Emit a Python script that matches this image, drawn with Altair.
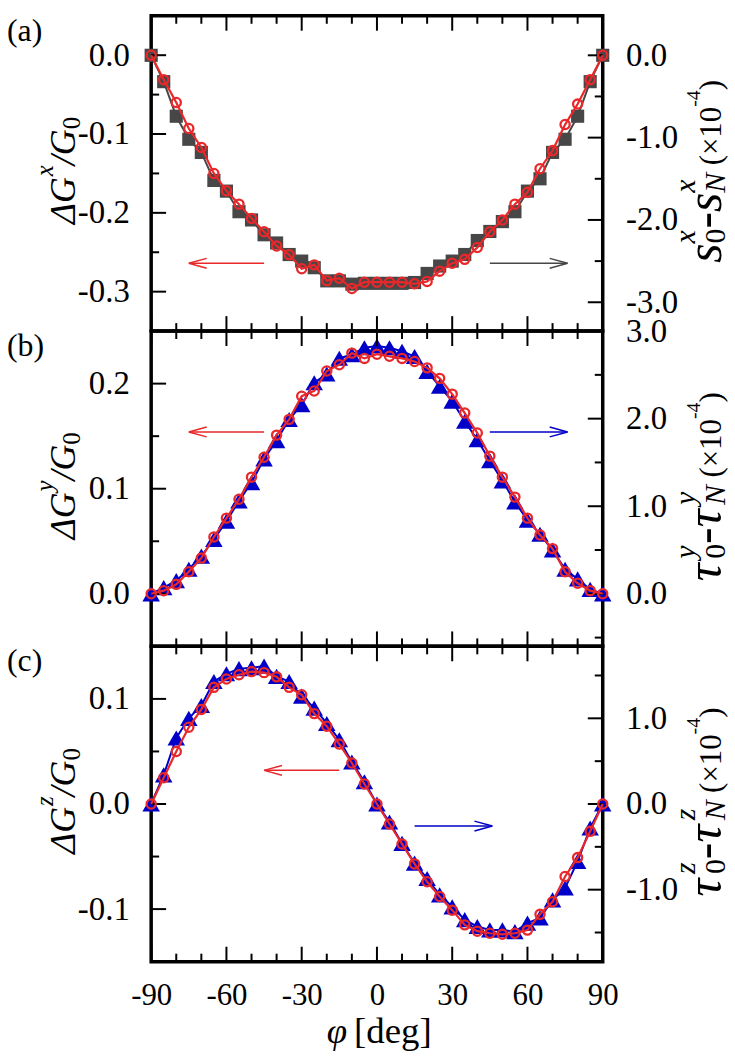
import altair as alt
import pandas as pd

SERIF = "Liberation Serif"
RED = "#e8282b"
GRAY = "#474747"
BLUE = "#0000c8"

PHI = [-90, -85, -80, -75, -70, -65, -60, -55, -50, -45, -40, -35, -30, -25, -20, -15, -10, -5, 0,
       5, 10, 15, 20, 25, 30, 35, 40, 45, 50, 55, 60, 65, 70, 75, 80, 85, 90]

# panel (a): conductance change (left) and spin accumulation difference (right, x1e-4)
DG_X = [0.000, -0.031, -0.060, -0.093, -0.117, -0.150, -0.172, -0.189, -0.207, -0.224, -0.242, -0.253,
        -0.271, -0.266, -0.286, -0.283, -0.296, -0.288, -0.288, -0.288, -0.288, -0.290, -0.287, -0.274,
        -0.264, -0.259, -0.244, -0.224, -0.209, -0.189, -0.174, -0.144, -0.121, -0.088, -0.062, -0.031, 0.000]
SPIN_X = [0.0, -0.32, -0.74, -1.02, -1.18, -1.52, -1.65, -1.90, -2.00, -2.18, -2.28, -2.42, -2.50, -2.58,
          -2.74, -2.74, -2.78, -2.77, -2.77, -2.77, -2.77, -2.76, -2.65, -2.56, -2.50, -2.42, -2.25, -2.14,
          -2.02, -1.90, -1.65, -1.50, -1.18, -1.02, -0.74, -0.32, 0.0]
# panel (b)
DG_Y = [0.000, 0.003, 0.009, 0.021, 0.034, 0.054, 0.072, 0.090, 0.111, 0.130, 0.151, 0.166, 0.188, 0.193,
        0.212, 0.218, 0.229, 0.224, 0.228, 0.226, 0.224, 0.221, 0.215, 0.205, 0.190, 0.172, 0.153, 0.131,
        0.111, 0.092, 0.072, 0.056, 0.043, 0.021, 0.010, 0.003, 0.000]
TAU_Y = [0.0, 0.07, 0.15, 0.28, 0.43, 0.62, 0.83, 1.06, 1.27, 1.54, 1.75, 1.99, 2.16, 2.41, 2.51, 2.69,
         2.73, 2.81, 2.83, 2.81, 2.77, 2.71, 2.54, 2.37, 2.20, 1.97, 1.76, 1.52, 1.29, 1.05, 0.84, 0.68,
         0.50, 0.28, 0.17, 0.05, 0.0]
# panel (c)
DG_Z = [0.000, 0.025, 0.050, 0.073, 0.090, 0.111, 0.119, 0.123, 0.126, 0.125, 0.121, 0.111, 0.104, 0.086,
        0.074, 0.057, 0.039, 0.019, 0.000, -0.019, -0.038, -0.057, -0.074, -0.088, -0.101, -0.115, -0.121,
        -0.123, -0.124, -0.123, -0.120, -0.105, -0.093, -0.069, -0.051, -0.026, 0.000]
TAU_Z = [0.0, 0.34, 0.77, 1.00, 1.15, 1.43, 1.52, 1.58, 1.59, 1.61, 1.49, 1.43, 1.26, 1.12, 0.94, 0.75,
         0.49, 0.26, 0.0, -0.21, -0.46, -0.69, -0.87, -1.06, -1.20, -1.35, -1.43, -1.47, -1.47, -1.49,
         -1.39, -1.33, -1.12, -0.98, -0.67, -0.28, 0.0]

X_MAJOR = [-90, -60, -30, 0, 30, 60, 90]
X_MINOR = [-80, -70, -50, -40, -20, -10, 10, 20, 40, 50, 70, 80]

A_LEFT_DOMAIN, A_LEFT_MAJOR, A_LEFT_MINOR = [-0.35, 0.05], [0.0, -0.1, -0.2, -0.3], [-0.05, -0.15, -0.25]
A_RIGHT_DOMAIN, A_RIGHT_MAJOR, A_RIGHT_MINOR = [-3.35, 0.48], [0.0, -1.0, -2.0, -3.0], [-0.5, -1.5, -2.5]
B_LEFT_DOMAIN, B_LEFT_MAJOR, B_LEFT_MINOR = [-0.05, 0.25], [0.0, 0.1, 0.2], [0.05, 0.15]
B_RIGHT_DOMAIN, B_RIGHT_MAJOR, B_RIGHT_MINOR = [-0.6, 3.0], [0.0, 1.0, 2.0, 3.0], [-0.5, 0.5, 1.5, 2.5]
C_LEFT_DOMAIN, C_LEFT_MAJOR, C_LEFT_MINOR = [-0.15, 0.15], [-0.1, 0.0, 0.1], [-0.05, 0.05]
C_RIGHT_DOMAIN, C_RIGHT_MAJOR, C_RIGHT_MINOR = [-1.84, 1.84], [-1.0, 0.0, 1.0], [-1.5, -0.5, 0.5, 1.5]

# arrows (data coordinates of the left axis)
ARROW_TAIL_A, ARROW_TIP_A, ARROW_LEVEL_A = [-45, 45], [-75, 76], [-0.264, -0.264]
ARROW_TAIL_B, ARROW_TIP_B, ARROW_LEVEL_B = [-45, 45], [-75, 76], [0.154, 0.154]
ARROW_TAIL_C, ARROW_TIP_C, ARROW_LEVEL_C = [-15, 15], [-45, 46], [0.032, -0.021]

W, H = 454, 317
MAJ_LEN, MIN_LEN = 15, 8
LEFT_HEAD = "M0,0L2,-0.55M0,0L2,0.55"
RIGHT_HEAD = "M0,0L-2,-0.55M0,0L-2,0.55"
YFMT = "datum.value < 0 ? '-' + format(-datum.value, '.1f') : format(datum.value, '.1f')"
XFMT = "datum.value < 0 ? '-' + format(-datum.value, 'd') : format(datum.value, 'd')"

W_NORMAL = {'(': .333, ')': .333, '×': .564, '-': .333, ' ': .25, '0': .5, '1': .5, '4': .5}
W_ITALIC = {'Δ': .612, 'G': .722, 'x': .444, 'y': .444, 'z': .389, '/': .278, 's': .389, 'N': .667,
            'τ': .45, 'φ': .5}

ONE = pd.DataFrame({'k': [0]})


def txt(s, x, y, size, style='normal', angle=0, align='left', baseline='alphabetic'):
    kw = dict(text=s, font=SERIF, fontSize=size, fontStyle=style, align=align,
              baseline=baseline, color='black')
    if angle:
        kw['angle'] = angle
    return alt.Chart(ONE).mark_text(**kw).encode(x=alt.value(x), y=alt.value(y))


def piece_width(t, size, style):
    table = W_ITALIC if style == 'italic' else W_NORMAL
    return sum(table.get(ch, 0.5) for ch in t) * size


def rotated_title(groups, base_x, center_y):
    advs = [max(piece_width(t, s, st) for t, s, st, sh in g) for g in groups]
    pos = center_y + sum(advs) / 2
    marks = []
    for g, adv in zip(groups, advs):
        for t, s, st, sh in g:
            if t.strip():
                marks.append(txt(t, base_x + sh, pos, s, st, angle=270))
        pos -= adv
    return marks


def left_title(sup):
    return [
        [("ΔG", 36, 'italic', 0)],
        [(sup, 25, 'italic', -22)],
        [("/G", 36, 'italic', 0)],
        [("0", 25, 'normal', 5)],
    ]


def right_title(sym, sup):
    return [
        [(sym, 50, 'italic', 0)],
        [("0", 30, 'normal', 4), (sup, 30, 'italic', -26)],
        [("-", 50, 'normal', 0)],
        [(sym, 50, 'italic', 0)],
        [("N", 30, 'italic', 4), (sup, 30, 'italic', -26)],
        [(" ", 30, 'normal', 0)],
        [("(×10", 31, 'normal', 0)],
        [("-4", 20, 'normal', -21)],
        [(")", 31, 'normal', 0)],
    ]


def panel(key, dg, sr, sr_color, sr_shape, sr_size, ldom, lmaj, lmin, rdom, rmaj, rmin,
          tails, tips, levels, arrow_colors, label, ltitle, rtitle, show_x):
    lf, rf = 'g' + key, 'r' + key
    df = pd.DataFrame({'phi': PHI, lf: dg, rf: sr})
    if show_x:
        xaxis = alt.Axis(orient='bottom', values=X_MAJOR, labelExpr=XFMT, ticks=False, domain=False,
                         grid=False, labelPadding=19, labelFontSize=31, labelFont=SERIF,
                         labelFlush=False, labelOverlap=False, labelColor='black', title=None)
    else:
        xaxis = None
    X = alt.X('phi:Q', scale=alt.Scale(domain=[-90, 90], nice=False, zero=False), axis=xaxis)
    YL = alt.Y(f'{lf}:Q', scale=alt.Scale(domain=ldom, nice=False, zero=False),
               axis=alt.Axis(orient='left', values=lmaj, labelExpr=YFMT, ticks=False, domain=False,
                             grid=False, labelPadding=22, labelFontSize=33, labelFont=SERIF,
                             labelOverlap=False, labelColor='black', title=None))
    YR = alt.Y(f'{rf}:Q', scale=alt.Scale(domain=rdom, nice=False, zero=False),
               axis=alt.Axis(orient='right', values=rmaj, labelExpr=YFMT, ticks=False, domain=False,
                             grid=False, labelPadding=23, labelFontSize=33, labelFont=SERIF,
                             labelOverlap=False, labelColor='black', title=None))

    right = [
        alt.Chart(df).mark_line(color=sr_color, strokeWidth=2).encode(x=X, y=YR),
        alt.Chart(df).mark_point(shape=sr_shape, filled=True, color=sr_color, size=sr_size,
                                 opacity=1).encode(x=X, y=YR),
    ]
    for vals, ln in ((rmaj, MAJ_LEN), (rmin, MIN_LEN)):
        right.append(alt.Chart(pd.DataFrame({rf: vals})).mark_rule(color='black', strokeWidth=2)
                     .encode(y=YR, x=alt.value(W - ln), x2=alt.value(W)))

    left = []
    for vals, ln in ((lmaj, MAJ_LEN), (lmin, MIN_LEN)):
        left.append(alt.Chart(pd.DataFrame({lf: vals})).mark_rule(color='black', strokeWidth=2)
                    .encode(y=YL, x=alt.value(0), x2=alt.value(ln)))
    for vals, ln in ((X_MAJOR, MAJ_LEN), (X_MINOR, MIN_LEN)):
        xd = pd.DataFrame({'phi': vals})
        left.append(alt.Chart(xd).mark_rule(color='black', strokeWidth=2)
                    .encode(x=X, y=alt.value(0), y2=alt.value(ln)))
        left.append(alt.Chart(xd).mark_rule(color='black', strokeWidth=2)
                    .encode(x=X, y=alt.value(H), y2=alt.value(H - ln)))
    for tail, tip, lev, col in zip(tails, tips, levels, arrow_colors):
        shaft = pd.DataFrame({'phi': [tail], 'phi2': [tip], lf: [lev]})
        left.append(alt.Chart(shaft).mark_rule(color=col, strokeWidth=1.5)
                    .encode(x=X, x2=alt.X2('phi2'), y=YL))
        head = pd.DataFrame({'phi': [tip], lf: [lev]})
        left.append(alt.Chart(head).mark_point(shape=LEFT_HEAD if tip < tail else RIGHT_HEAD,
                                               filled=False, color=col, strokeWidth=1.5, size=324,
                                               opacity=1).encode(x=X, y=YL))
    left.append(alt.Chart(df).mark_line(color=RED, strokeWidth=2.2).encode(x=X, y=YL))
    left.append(alt.Chart(df).mark_point(shape='circle', filled=False, color=RED, strokeWidth=2.3,
                                         size=85, opacity=1).encode(x=X, y=YL))
    left.append(txt(label, -145, 25, 32))
    left += rotated_title(ltitle, -77, H / 2 - 3)
    left += rotated_title(rtitle, W + 119, H / 2 - 2)
    if show_x:
        left.append(txt("φ", 197, 399, 37, 'italic', align='right'))
        left.append(txt("[deg]", 204, 399, 37))

    return (alt.layer(alt.layer(*right), alt.layer(*left))
            .resolve_scale(y='independent')
            .properties(width=W, height=H))


pa = panel('a', DG_X, SPIN_X, GRAY, 'square', 175, A_LEFT_DOMAIN, A_LEFT_MAJOR, A_LEFT_MINOR,
           A_RIGHT_DOMAIN, A_RIGHT_MAJOR, A_RIGHT_MINOR, ARROW_TAIL_A, ARROW_TIP_A, ARROW_LEVEL_A,
           [RED, GRAY], "(a)", left_title("x"), right_title("s", "x"), False)
pb = panel('b', DG_Y, TAU_Y, BLUE, 'triangle-up', 310, B_LEFT_DOMAIN, B_LEFT_MAJOR, B_LEFT_MINOR,
           B_RIGHT_DOMAIN, B_RIGHT_MAJOR, B_RIGHT_MINOR, ARROW_TAIL_B, ARROW_TIP_B, ARROW_LEVEL_B,
           [RED, BLUE], "(b)", left_title("y"), right_title("τ", "y"), False)
pc = panel('c', DG_Z, TAU_Z, BLUE, 'triangle-up', 310, C_LEFT_DOMAIN, C_LEFT_MAJOR, C_LEFT_MINOR,
           C_RIGHT_DOMAIN, C_RIGHT_MAJOR, C_RIGHT_MINOR, ARROW_TAIL_C, ARROW_TIP_C, ARROW_LEVEL_C,
           [RED, BLUE], "(c)", left_title("z"), right_title("τ", "z"), True)

chart = (alt.vconcat(pa, pb, pc, spacing=0, bounds='flush')
         .properties(padding={'left': 5, 'top': 10, 'right': 2, 'bottom': 2})
         .configure_view(stroke='black', strokeWidth=3.5))

chart.save("out.html", embed_options={"renderer": "svg", "actions": False})
